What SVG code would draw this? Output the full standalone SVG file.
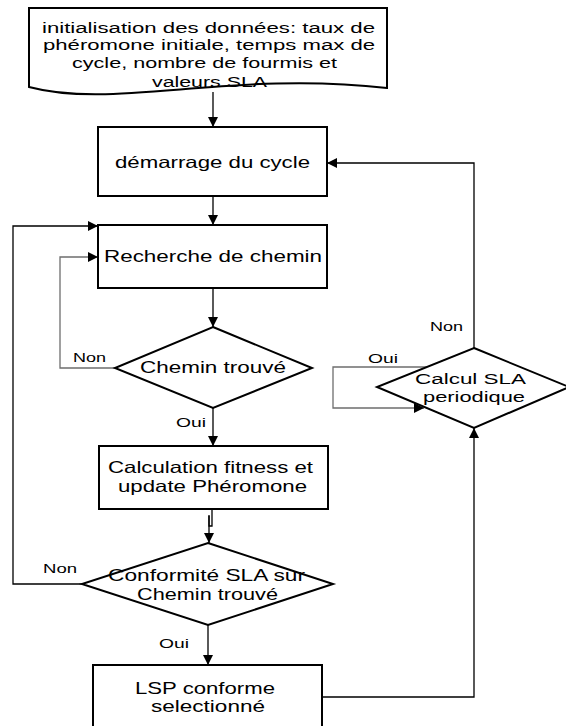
<svg xmlns="http://www.w3.org/2000/svg" width="566" height="726" viewBox="0 0 566 726">
  <defs>
    <marker id="arr" viewBox="0 0 10 10" refX="10" refY="5" markerWidth="10" markerHeight="10" markerUnits="userSpaceOnUse" orient="auto">
      <path d="M0,0 L10,5 L0,10 z" fill="#000"/>
    </marker>
  </defs>
  <style>
    .shape { fill: #fff; stroke: #000; stroke-width: 2; }
    .link { fill: none; stroke: #000; stroke-width: 1.3; }
    .grey { stroke: #6e6e6e; }
    text { font-family: "Liberation Sans", Arial, sans-serif; fill: #000; }
    .t { font-size: 16.5px; }
    .d { font-size: 15.5px; }
    .s { font-size: 15.5px; }
    .lbl { font-size: 13px; }
  </style>
  <rect width="566" height="726" fill="#fff"/>

  <!-- connectors -->
  <g id="connectors">
    <path class="link" d="M213,92 V127" marker-end="url(#arr)"/>
    <path class="link" d="M213,196 V225" marker-end="url(#arr)"/>
    <path class="link" d="M213,288 V327" marker-end="url(#arr)"/>
    <path class="link grey" d="M115,368 H60 V257 H98" marker-end="url(#arr)"/>
    <path class="link" d="M213,408 V446" marker-end="url(#arr)"/>
    <path class="link" d="M212,509 V526 H209 V515"/>
    <path class="link" d="M209,516 V543" marker-end="url(#arr)"/>
    <path class="link" d="M82,584 H13 V226 H98" marker-end="url(#arr)"/>
    <path class="link" d="M208,625 V665" marker-end="url(#arr)"/>
    <path class="link" d="M322,697 H474 V428" marker-end="url(#arr)"/>
    <path class="link" d="M474,348 V163 H327" marker-end="url(#arr)"/>
    <path class="link grey" d="M427,367 H333 V408 H424" marker-end="url(#arr)"/>
  </g>

  <!-- data input document -->
  <g id="init">
    <path class="shape" d="M29,8 H387 V88 C230,70 115,110 29,87 Z"/>
    <text class="d" x="42" y="33" textLength="333" lengthAdjust="spacingAndGlyphs">initialisation des données: taux de</text>
    <text class="d" x="43" y="50" textLength="332" lengthAdjust="spacingAndGlyphs">phéromone initiale, temps max de</text>
    <text class="d" x="72" y="68" textLength="265" lengthAdjust="spacingAndGlyphs">cycle, nombre de fourmis et</text>
    <text class="d" x="152" y="87" textLength="115" lengthAdjust="spacingAndGlyphs">valeurs SLA</text>
  </g>

  <g id="demarrage">
    <rect class="shape" x="98" y="127" width="229" height="69"/>
    <text class="t" x="115" y="168" textLength="195" lengthAdjust="spacingAndGlyphs">démarrage du cycle</text>
  </g>

  <g id="recherche">
    <rect class="shape" x="98" y="225" width="229" height="63"/>
    <text class="t" x="104" y="262" textLength="218" lengthAdjust="spacingAndGlyphs">Recherche de chemin</text>
  </g>

  <g id="chemin-trouve">
    <polygon class="shape" points="213,327 312,368 213,408 115,368"/>
    <text class="t" x="140" y="373" textLength="146" lengthAdjust="spacingAndGlyphs">Chemin trouvé</text>
    <text class="lbl" x="73" y="362" textLength="33" lengthAdjust="spacingAndGlyphs">Non</text>
    <text class="lbl" x="176" y="427" textLength="30" lengthAdjust="spacingAndGlyphs">Oui</text>
  </g>

  <g id="calculation">
    <rect class="shape" x="99" y="446" width="229" height="63"/>
    <text class="t" x="108" y="473" textLength="205" lengthAdjust="spacingAndGlyphs">Calculation fitness et</text>
    <text class="t" x="118" y="492" textLength="189" lengthAdjust="spacingAndGlyphs">update Phéromone</text>
  </g>

  <g id="conformite">
    <polygon class="shape" points="208,543 333,584 208,625 82,584"/>
    <text class="t" x="108" y="581" textLength="197" lengthAdjust="spacingAndGlyphs">Conformité SLA sur</text>
    <text class="t" x="137" y="600" textLength="141" lengthAdjust="spacingAndGlyphs">Chemin trouvé</text>
    <text class="lbl" x="43" y="573" textLength="34" lengthAdjust="spacingAndGlyphs">Non</text>
    <text class="lbl" x="159" y="648" textLength="30" lengthAdjust="spacingAndGlyphs">Oui</text>
  </g>

  <g id="lsp">
    <rect class="shape" x="93" y="665" width="229" height="75"/>
    <text class="t" x="135" y="694" textLength="140" lengthAdjust="spacingAndGlyphs">LSP conforme</text>
    <text class="t" x="151" y="712" textLength="114" lengthAdjust="spacingAndGlyphs">selectionné</text>
  </g>

  <g id="calcul-sla">
    <polygon class="shape" points="474,348 569,387 474,428 377,387"/>
    <text class="s" x="415" y="384" textLength="111" lengthAdjust="spacingAndGlyphs">Calcul SLA</text>
    <text class="s" x="423" y="402" textLength="102" lengthAdjust="spacingAndGlyphs">periodique</text>
    <text class="lbl" x="430" y="331" textLength="33" lengthAdjust="spacingAndGlyphs">Non</text>
    <text class="lbl" x="368" y="363" textLength="30" lengthAdjust="spacingAndGlyphs">Oui</text>
  </g>
</svg>
